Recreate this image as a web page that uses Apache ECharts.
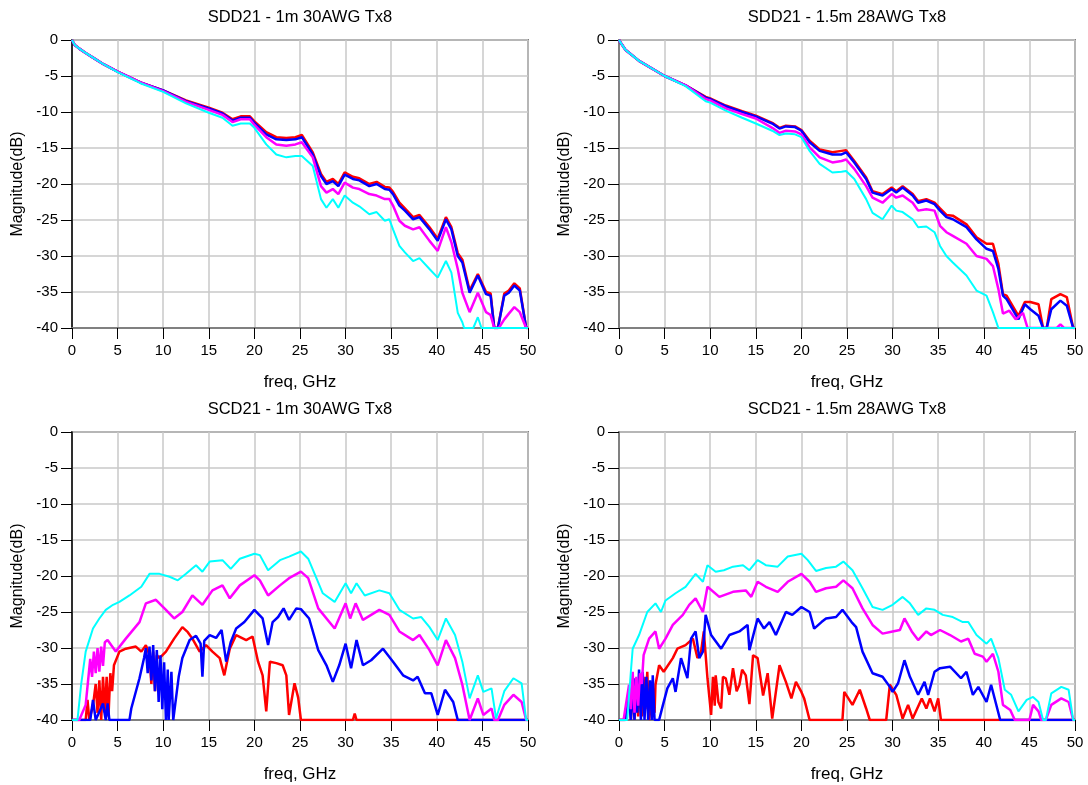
<!DOCTYPE html>
<html>
<head>
<meta charset="utf-8">
<script src="https://cdn.jsdelivr.net/npm/echarts@6/dist/echarts.min.js"></script>
<style>
html,body{margin:0;padding:0;background:#fff;}
#chart{width:1088px;height:785px;}
</style>
</head>
<body>
<div id="chart"></div>
<script>
// ---------- Titles / axis labels ----------
const titles = ['SDD21 - 1m 30AWG Tx8', 'SDD21 - 1.5m 28AWG Tx8', 'SCD21 - 1m 30AWG Tx8', 'SCD21 - 1.5m 28AWG Tx8'];
const xName = 'freq, GHz';
const yName = 'Magnitude(dB)';
const seriesColors = ['#ff0000', '#0000ff', '#ff00ff', '#00ffff'];

// ---------- SDD21 1m 30AWG : [freq GHz, dB] ----------
const sdd1_red = [[0,0],[0.3,-0.7],[0.8,-1.2],[1.5,-1.8],[2.3,-2.45],[3.5,-3.4],[5,-4.4],[7.5,-5.9],[10,-7.0],[12.5,-8.4],[15,-9.4],[16.5,-10.1],[17.6,-11.0],[18.5,-10.6],[19.5,-10.6],[20,-11.3],[21.3,-12.8],[22.4,-13.5],[23.5,-13.6],[24.5,-13.5],[25.2,-13.2],[26.4,-15.6],[27.3,-18.6],[27.9,-19.7],[28.6,-19.3],[29.2,-20.0],[29.9,-18.4],[30.8,-19.0],[31.5,-19.2],[32.6,-20.0],[33.4,-19.7],[34.3,-20.4],[34.8,-20.5],[35.2,-21.1],[35.9,-22.6],[36.5,-23.4],[37.4,-24.6],[38.1,-24.3],[39.2,-26.0],[40.1,-27.6],[41.0,-24.6],[41.6,-26.0],[42.3,-29.6],[42.8,-30.5],[43.6,-34.8],[44.5,-32.5],[45.4,-35.0],[45.9,-35.2],[46.3,-40],[46.7,-40],[47.4,-35.2],[47.9,-34.8],[48.5,-33.8],[49.1,-34.5],[49.8,-40],[50,-40]];
const sdd1_blue = [[0,0],[0.3,-0.7],[0.8,-1.2],[1.5,-1.8],[2.3,-2.45],[3.5,-3.4],[5,-4.4],[7.5,-5.9],[10,-7.0],[12.5,-8.5],[15,-9.5],[16.5,-10.2],[17.6,-11.2],[18.5,-10.8],[19.5,-10.8],[20,-11.5],[21.3,-13.1],[22.4,-13.8],[23.5,-13.9],[24.5,-13.8],[25.2,-13.5],[26.4,-15.9],[27.3,-18.9],[27.9,-20.0],[28.6,-19.6],[29.2,-20.3],[29.9,-18.7],[30.8,-19.3],[31.5,-19.5],[32.6,-20.3],[33.4,-20.0],[34.3,-20.7],[34.8,-20.8],[35.2,-21.4],[35.9,-23.0],[36.5,-23.7],[37.4,-24.9],[38.1,-24.6],[39.2,-26.3],[40.1,-27.9],[41.0,-24.9],[41.6,-26.3],[42.3,-30.0],[42.8,-30.9],[43.6,-35.1],[44.5,-32.7],[45.4,-35.3],[45.9,-35.5],[46.3,-40],[46.7,-40],[47.4,-35.5],[47.9,-35.1],[48.5,-34.1],[49.1,-34.8],[49.8,-40],[50,-40]];
const sdd1_magenta = [[0,0],[0.3,-0.7],[0.8,-1.2],[1.5,-1.8],[2.3,-2.45],[3.5,-3.4],[5,-4.4],[7.5,-5.9],[10,-7.1],[12.5,-8.6],[15,-9.7],[16.5,-10.4],[17.6,-11.4],[18.5,-11.0],[19.5,-11.0],[20,-11.8],[21.3,-13.5],[22.4,-14.5],[23.5,-14.7],[24.5,-14.5],[25.2,-14.2],[26.4,-16.3],[27.3,-20.3],[27.9,-21.2],[28.6,-20.7],[29.2,-21.4],[29.9,-19.8],[30.8,-20.5],[31.5,-20.7],[32.6,-21.4],[33.4,-21.6],[34.3,-22.1],[34.8,-22.1],[35.2,-23.0],[35.9,-25.1],[36.5,-25.8],[37.4,-26.3],[38.1,-26.0],[39.2,-27.9],[40.1,-29.3],[41.0,-26.0],[41.6,-28.1],[42.3,-31.8],[42.8,-35.1],[43.6,-37.8],[44.5,-35.1],[45.4,-37.8],[45.9,-38.2],[46.3,-40],[46.8,-40],[47.4,-38.8],[47.9,-38.0],[48.5,-37.1],[49.1,-37.8],[49.8,-40],[50,-40]];
const sdd1_cyan = [[0,0],[0.3,-0.7],[0.8,-1.2],[1.5,-1.8],[2.3,-2.45],[3.5,-3.4],[5,-4.45],[7.5,-6.0],[10,-7.2],[12.5,-8.8],[15,-10.1],[16.5,-10.8],[17.6,-11.9],[18.5,-11.6],[19.5,-11.6],[20,-12.2],[21.3,-14.5],[22.4,-15.9],[23.5,-16.3],[24.5,-16.1],[25.2,-16.1],[26.4,-17.5],[27.3,-22.1],[27.9,-23.3],[28.6,-22.1],[29.2,-23.3],[29.9,-21.6],[30.8,-22.6],[31.5,-23.1],[32.6,-24.2],[33.4,-23.9],[34.3,-25.1],[34.8,-24.9],[35.2,-26.3],[35.9,-28.6],[36.5,-29.5],[37.4,-30.7],[38.1,-30.3],[39.2,-31.8],[40.1,-33.0],[41.0,-30.7],[41.6,-32.3],[42.3,-37.9],[42.8,-39.2],[43.0,-40],[44.0,-40],[44.5,-38.5],[44.9,-40],[50,-40]];

// ---------- SDD21 1.5m 28AWG ----------
const sdd2_red = [[0,0],[0.3,-0.6],[0.73,-1.4],[2.2,-2.9],[5,-5.0],[7.3,-6.3],[9.5,-7.9],[10,-8.1],[11.7,-9.1],[13.5,-9.9],[15,-10.5],[16.8,-11.5],[17.6,-12.2],[18.3,-11.9],[19.3,-12.0],[20,-12.5],[20.9,-14.0],[22,-15.2],[23.4,-15.6],[24.4,-15.4],[24.9,-15.3],[25.8,-16.8],[27.1,-19.1],[27.8,-21.0],[28.9,-21.4],[29.9,-20.5],[30.4,-21.0],[31.1,-20.3],[32.2,-21.4],[32.8,-22.4],[33.7,-22.1],[34.6,-22.6],[35.2,-23.4],[35.9,-24.3],[36.6,-24.4],[38.1,-25.6],[39.2,-27.4],[40.3,-28.3],[41.0,-28.3],[41.6,-31.1],[42.1,-35.3],[42.5,-35.5],[43.8,-38.3],[44.5,-36.4],[45.1,-36.4],[46.0,-36.7],[46.5,-40],[46.9,-40],[47.4,-36.0],[48.4,-35.3],[49.1,-35.7],[49.8,-40],[50,-40]];
const sdd2_blue = [[0,0],[0.3,-0.6],[0.73,-1.4],[2.2,-2.9],[5,-5.0],[7.3,-6.3],[9.5,-8.0],[10,-8.2],[11.7,-9.2],[13.5,-10.0],[15,-10.6],[16.8,-11.6],[17.6,-12.3],[18.3,-12.0],[19.3,-12.1],[20,-12.6],[20.9,-14.2],[22,-15.4],[23.4,-15.9],[24.4,-15.9],[24.9,-15.6],[25.8,-17.0],[27.1,-19.3],[27.8,-21.2],[28.9,-21.6],[29.9,-20.7],[30.4,-21.2],[31.1,-20.5],[32.2,-21.6],[32.8,-22.6],[33.7,-22.3],[34.6,-22.8],[35.2,-23.7],[35.9,-24.6],[36.6,-24.9],[38.1,-26.0],[39.2,-27.7],[40.3,-29.0],[41.0,-29.3],[41.6,-31.8],[42.1,-35.5],[42.5,-36.0],[43.8,-38.8],[44.5,-36.7],[45.1,-37.4],[46.0,-38.3],[46.5,-40],[46.9,-40],[47.4,-37.4],[48.4,-36.2],[49.1,-36.9],[49.8,-40],[50,-40]];
const sdd2_magenta = [[0,0],[0.3,-0.6],[0.73,-1.4],[2.2,-2.9],[5,-5.0],[7.3,-6.3],[9.5,-8.2],[10,-8.4],[11.7,-9.5],[13.5,-10.3],[15,-10.9],[16.8,-12.2],[17.6,-12.9],[18.3,-12.6],[19.3,-12.7],[20,-13.1],[20.9,-14.9],[22,-16.3],[23.4,-17.0],[24.4,-16.8],[24.9,-16.6],[25.8,-17.9],[27.1,-20.3],[27.8,-21.9],[28.9,-22.6],[29.9,-21.4],[30.4,-21.9],[31.1,-21.6],[32.2,-22.6],[32.8,-23.7],[33.7,-23.5],[34.6,-23.7],[35.2,-25.8],[35.9,-26.7],[36.6,-27.2],[38.1,-28.3],[39.2,-30.0],[40.3,-30.4],[41.0,-31.4],[41.6,-34.6],[42.1,-38.0],[42.8,-37.6],[43.5,-38.8],[44.3,-37.9],[44.8,-40],[48.0,-40],[48.4,-39.5],[48.8,-40],[50,-40]];
const sdd2_cyan = [[0,0],[0.3,-0.6],[0.73,-1.4],[2.2,-2.9],[5,-5.0],[7.3,-6.4],[9.5,-8.5],[10,-8.7],[11.7,-9.8],[13.5,-10.8],[15,-11.6],[16.8,-12.6],[17.6,-13.2],[18.3,-13.0],[19.3,-13.1],[20,-13.5],[20.9,-15.4],[22,-17.2],[23.4,-18.4],[24.4,-18.3],[24.9,-18.2],[25.8,-19.3],[27.1,-22.1],[27.8,-24.0],[28.9,-24.9],[29.9,-23.0],[30.4,-23.7],[31.1,-23.9],[32.2,-24.9],[32.8,-26.0],[33.7,-25.9],[34.6,-26.7],[35.2,-28.6],[35.9,-30.0],[36.6,-30.9],[38.1,-32.7],[39.2,-34.8],[40.3,-35.5],[41.0,-37.8],[41.6,-40],[50,-40]];

// ---------- SCD21 1m 30AWG ----------
const scd1_red = [[0,-40],[1.5,-40],[1.7,-37.2],[1.9,-40],[2.3,-38.0],[2.6,-35.0],[2.8,-39.0],[3.0,-34.5],[3.2,-40],[3.4,-34.0],[3.6,-39.0],[3.8,-34.0],[4.0,-39.5],[4.2,-33.5],[4.4,-36.0],[4.6,-32.4],[5.2,-30.5],[5.9,-30.1],[7.0,-29.8],[7.6,-30.5],[8.1,-29.6],[8.5,-31.0],[8.7,-35.0],[8.9,-30.5],[9.1,-36.0],[9.3,-31.0],[9.6,-31.4],[10.3,-30.5],[11.2,-28.7],[12.1,-27.1],[12.7,-27.8],[13.2,-28.7],[14.0,-30.5],[14.7,-29.6],[15.4,-30.5],[16.2,-31.4],[16.7,-33.8],[17.3,-30.1],[18.0,-28.2],[19.1,-28.9],[19.8,-28.4],[20.4,-31.9],[20.9,-33.8],[21.3,-38.8],[21.7,-31.9],[22.4,-32.1],[23.1,-32.4],[23.5,-33.8],[23.8,-39.3],[24.4,-34.9],[24.8,-36.9],[25.1,-40],[30.8,-40],[31.0,-39.1],[31.2,-40],[50,-40]];
const scd1_blue = [[0,-40],[2.0,-40],[2.3,-37.2],[2.6,-40],[3.4,-37.7],[3.7,-40],[3.9,-37.7],[4.1,-40],[6.3,-40],[6.5,-38.4],[7.4,-34.2],[7.9,-31.4],[8.1,-30.0],[8.3,-33.5],[8.5,-29.8],[8.7,-34.5],[8.9,-29.6],[9.1,-36.0],[9.3,-30.3],[9.5,-37.5],[9.7,-31.0],[9.9,-38.5],[10.1,-32.0],[10.3,-40],[10.5,-33.0],[10.6,-40],[10.9,-33.3],[11.1,-40],[11.3,-40],[11.5,-36.0],[11.7,-34.0],[12.1,-31.4],[12.9,-28.9],[13.6,-28.3],[14.1,-29.4],[14.3,-34.0],[14.5,-29.0],[15.1,-28.2],[15.8,-28.6],[16.4,-27.5],[16.9,-31.9],[17.4,-29.2],[18.0,-27.3],[18.9,-26.4],[20.0,-24.7],[20.9,-25.9],[21.5,-29.6],[22.0,-26.4],[22.6,-25.7],[23.2,-24.5],[23.8,-26.1],[24.6,-24.5],[25.1,-24.6],[26.0,-25.9],[27.0,-30.3],[27.9,-32.4],[28.6,-34.7],[29.3,-32.4],[30.0,-29.4],[30.6,-32.8],[31.2,-28.9],[31.9,-32.4],[32.8,-31.7],[34.1,-30.1],[35.2,-31.9],[36.3,-33.8],[37.4,-34.5],[37.9,-34.0],[38.7,-36.3],[39.4,-36.3],[40.1,-39.3],[40.9,-35.8],[41.8,-37.5],[42.3,-40],[50,-40]];
const scd1_magenta = [[0,-40],[0.8,-40],[1.5,-37.9],[2.0,-31.5],[2.2,-34.0],[2.4,-30.5],[2.6,-33.5],[2.8,-30.0],[3.0,-33.3],[3.2,-29.8],[3.4,-32.5],[3.6,-29.2],[3.9,-28.9],[4.8,-30.5],[5.9,-28.7],[7.4,-26.4],[8.1,-23.8],[9.2,-23.3],[10.3,-24.7],[11.2,-25.9],[12.1,-25.0],[13.2,-22.7],[14.3,-24.0],[15.4,-22.0],[16.5,-21.3],[17.3,-23.1],[18.4,-21.3],[20.0,-19.9],[20.6,-20.6],[21.5,-22.7],[22.8,-21.3],[23.8,-20.3],[25.1,-19.4],[25.9,-20.3],[27.0,-24.5],[28.8,-27.3],[30.0,-23.8],[30.5,-25.9],[31.1,-23.8],[31.9,-26.1],[33.7,-24.7],[34.8,-25.4],[35.9,-27.7],[37.4,-28.9],[38.1,-28.2],[39.2,-30.3],[40.1,-32.4],[41.0,-28.9],[42.0,-31.4],[42.8,-35.1],[43.6,-40],[44.5,-37.0],[45.1,-39.3],[46.0,-38.4],[46.3,-40],[46.7,-40],[47.4,-37.9],[48.4,-36.5],[49.3,-37.5],[49.8,-40],[50,-40]];
const scd1_cyan = [[0,-40],[0.6,-40],[1.0,-35.1],[1.5,-30.5],[2.3,-27.3],[3.0,-25.9],[3.7,-24.7],[4.5,-24.0],[5.2,-23.6],[6.3,-22.7],[7.6,-21.5],[8.5,-19.7],[9.6,-19.7],[10.7,-20.1],[11.6,-20.6],[12.5,-19.7],[13.6,-18.5],[14.3,-19.4],[15.1,-18.0],[16.5,-17.8],[17.4,-19.0],[18.4,-17.6],[20.0,-16.9],[20.6,-17.1],[21.5,-19.2],[22.8,-17.8],[23.8,-17.3],[25.1,-16.6],[25.9,-17.6],[26.8,-20.3],[27.5,-22.4],[28.8,-23.6],[30.0,-21.0],[30.6,-22.4],[31.2,-21.0],[32.1,-22.7],[33.7,-22.0],[34.8,-22.4],[35.9,-24.7],[37.4,-25.9],[38.3,-25.7],[39.2,-27.1],[40.1,-28.9],[41.0,-25.9],[42.0,-28.2],[42.8,-31.9],[43.6,-37.0],[44.5,-33.8],[45.1,-36.1],[46.0,-35.6],[46.5,-39.8],[47.4,-36.0],[48.4,-34.2],[49.3,-34.9],[49.8,-40],[50,-40]];

// ---------- SCD21 1.5m 28AWG ----------
const scd2_red = [[0,-40],[0.7,-40],[1.1,-36.1],[1.3,-40],[1.5,-35.5],[1.7,-40],[1.9,-35.0],[2.1,-39.5],[2.3,-34.5],[2.5,-39.5],[2.7,-34.0],[2.9,-38.5],[3.1,-33.3],[3.3,-40],[3.5,-40],[3.7,-35.5],[3.9,-39],[4.0,-35.1],[4.4,-32.4],[4.9,-33.3],[5.9,-31.4],[6.4,-30.1],[7.3,-29.6],[8.1,-28.7],[8.6,-31.4],[9.0,-30.5],[9.3,-27.7],[9.7,-34.2],[10.1,-39.3],[10.3,-34.0],[10.5,-38.0],[10.6,-33.8],[10.9,-37.5],[11.2,-38.4],[11.4,-34.0],[11.7,-34.2],[12.1,-36.5],[12.5,-32.8],[12.9,-36.0],[13.2,-35.1],[13.5,-33.0],[13.9,-33.8],[14.3,-37.8],[14.7,-31.0],[15.2,-31.4],[15.8,-36.6],[16.3,-33.5],[16.8,-39.8],[17.6,-32.4],[18.3,-34.7],[18.9,-37.0],[19.4,-34.7],[20.0,-36.1],[20.3,-37.0],[20.9,-40],[24.5,-40],[24.7,-36.1],[25.6,-37.9],[26.4,-35.8],[27.1,-38.4],[27.5,-40],[29.3,-40],[29.7,-35.1],[30.4,-36.5],[31.1,-39.8],[31.7,-37.9],[32.2,-39.8],[33.2,-37.0],[33.7,-38.4],[34.1,-37.0],[34.6,-38.8],[35.0,-37.0],[35.3,-40],[50,-40]];
const scd2_blue = [[0,-40],[0.7,-40],[1.1,-36.5],[1.3,-40],[1.5,-35.0],[1.7,-40],[1.8,-34.2],[2.0,-39.0],[2.2,-33.0],[2.4,-40],[2.6,-33.3],[2.8,-40],[3.0,-34.0],[3.2,-40],[3.4,-34.5],[3.6,-40],[3.7,-33.8],[3.9,-40],[4.4,-40],[4.8,-38.0],[5.3,-35.6],[5.9,-34.2],[6.2,-36.1],[6.8,-31.4],[7.5,-34.2],[7.9,-28.7],[8.4,-27.7],[8.8,-31.4],[9.2,-30.5],[9.5,-25.4],[10.1,-28.2],[11.2,-30.1],[12.1,-28.2],[13.2,-27.7],[14.1,-26.8],[14.3,-30.3],[15.2,-25.9],[15.9,-27.3],[16.5,-26.4],[17.2,-28.2],[18.3,-25.0],[19.0,-25.4],[20.0,-24.3],[20.9,-25.0],[21.4,-27.3],[22.2,-26.4],[22.7,-25.9],[23.8,-25.7],[24.5,-24.7],[25.5,-26.4],[26.0,-27.1],[26.7,-30.5],[27.8,-33.5],[28.9,-34.0],[29.7,-35.4],[30.0,-36.1],[30.6,-34.9],[31.3,-31.7],[31.9,-34.0],[32.8,-36.5],[33.5,-34.7],[33.9,-36.5],[34.6,-33.3],[35.2,-32.8],[36.3,-32.6],[37.5,-34.2],[38.1,-33.3],[38.8,-36.5],[39.4,-35.4],[40.3,-37.5],[40.8,-35.1],[41.8,-40],[50,-40]];
const scd2_magenta = [[0,-40],[0.5,-40],[1.1,-35.1],[1.3,-38.5],[1.5,-33.3],[1.7,-39.0],[1.9,-34.0],[2.1,-38.0],[2.3,-33.5],[2.5,-35.0],[2.7,-31.0],[3.3,-28.7],[4.0,-27.7],[4.4,-30.1],[5.1,-28.7],[5.9,-26.8],[7.0,-25.4],[7.7,-24.0],[8.4,-23.1],[9.2,-25.0],[9.7,-21.5],[11.0,-22.9],[12.5,-22.2],[13.9,-22.0],[14.5,-22.9],[15.2,-20.8],[16.1,-21.5],[17.4,-22.2],[18.5,-20.8],[20.0,-19.7],[20.9,-20.8],[21.6,-22.2],[22.7,-21.7],[23.8,-21.5],[24.6,-20.6],[25.6,-21.7],[26.7,-24.5],[27.8,-26.8],[28.9,-28.0],[30.0,-27.7],[30.8,-27.5],[31.3,-25.9],[32.1,-27.7],[32.8,-28.9],[33.7,-27.7],[34.2,-28.2],[35.2,-27.5],[36.3,-28.2],[37.5,-29.1],[38.3,-28.7],[39.0,-30.8],[39.9,-31.2],[40.3,-31.9],[41.0,-30.8],[41.6,-33.3],[42.1,-37.9],[42.9,-38.6],[43.4,-40],[45.0,-40],[45.4,-37.9],[46.0,-38.8],[46.3,-40],[46.8,-40],[47.4,-37.9],[48.5,-37.0],[49.3,-37.5],[49.8,-40],[50,-40]];
const scd2_cyan = [[0,-40],[0.9,-40],[1.3,-33.3],[1.5,-30.1],[2.2,-28.2],[3.1,-25.0],[4.0,-23.8],[4.6,-25.0],[5.1,-23.4],[6.2,-22.4],[7.3,-21.5],[8.4,-19.7],[9.2,-20.8],[9.7,-18.5],[10.6,-19.4],[11.5,-19.2],[12.5,-18.7],[13.6,-18.5],[14.3,-19.2],[15.2,-17.8],[16.1,-18.5],[17.4,-18.7],[18.5,-17.3],[20.0,-16.9],[20.7,-17.8],[21.6,-19.3],[22.7,-18.9],[23.8,-18.7],[24.6,-18.0],[25.6,-19.2],[26.7,-21.7],[27.8,-24.3],[28.9,-24.7],[30.0,-24.0],[31.1,-22.9],[31.9,-23.8],[32.8,-25.4],[33.7,-24.5],[34.6,-24.7],[35.5,-25.4],[36.6,-25.7],[37.7,-26.4],[38.3,-26.4],[39.2,-28.2],[40.3,-29.4],[40.8,-28.7],[41.6,-31.4],[42.3,-35.8],[43.0,-36.5],[43.8,-38.8],[44.7,-37.2],[45.4,-36.8],[46.0,-37.5],[46.5,-40],[46.8,-40],[47.4,-36.3],[48.5,-35.4],[49.3,-35.8],[49.8,-40],[50,-40]];

const panels = [
  [sdd1_red, sdd1_blue, sdd1_magenta, sdd1_cyan],
  [sdd2_red, sdd2_blue, sdd2_magenta, sdd2_cyan],
  [scd1_red, scd1_blue, scd1_magenta, scd1_cyan],
  [scd2_red, scd2_blue, scd2_magenta, scd2_cyan]
];

// ---------- Layout ----------
const FONT = '"Liberation Sans", Arial, sans-serif';
const gridBoxes = [
  {left: 72, top: 40, width: 456, height: 288},
  {left: 619, top: 40, width: 456, height: 288},
  {left: 72, top: 432, width: 456, height: 288},
  {left: 619, top: 432, width: 456, height: 288}
];
const lineWidths = [2.5, 2.5, 2.5, 2];

const option = {
  animation: false,
  backgroundColor: '#ffffff',
  title: gridBoxes.map((g, i) => ({
    text: titles[i],
    left: g.left + g.width / 2,
    top: g.top - 31,
    textAlign: 'center',
    padding: 0,
    textStyle: {fontFamily: FONT, fontSize: 16.5, fontWeight: 'normal', color: '#000'}
  })),
  grid: gridBoxes.map(g => Object.assign({show: true, borderColor: '#808080', borderWidth: 2, backgroundColor: 'transparent'}, g)),
  xAxis: gridBoxes.map((g, i) => ({
    type: 'value', gridIndex: i, min: 0, max: 50, interval: 5,
    name: xName, nameLocation: 'middle', nameGap: 46,
    nameTextStyle: {fontFamily: FONT, fontSize: 17, color: '#000'},
    axisLine: {show: true, onZero: false, lineStyle: {color: '#808080', width: 2}},
    axisTick: {show: true, inside: false, length: 11, lineStyle: {color: '#000', width: 1}},
    axisLabel: {fontFamily: FONT, fontSize: 15, color: '#000', margin: 15},
    splitLine: {show: true, lineStyle: {color: '#c8c8c8', width: 1.5}}
  })),
  yAxis: gridBoxes.map((g, i) => ({
    type: 'value', gridIndex: i, min: -40, max: 0, interval: 5,
    name: yName, nameLocation: 'middle', nameGap: 46, nameRotate: 90,
    nameTextStyle: {fontFamily: FONT, fontSize: 16, color: '#000'},
    axisLine: {show: true, onZero: false, lineStyle: {color: (i % 2 === 0) ? '#000' : '#808080', width: (i % 2 === 0) ? 1.5 : 2}},
    axisTick: {show: true, inside: false, length: 11, lineStyle: {color: '#000', width: 1}},
    axisLabel: {fontFamily: FONT, fontSize: 15, color: '#000', margin: 14},
    splitLine: {show: true, lineStyle: {color: '#c8c8c8', width: 1.5}}
  })),
  series: []
};

panels.forEach((set, pi) => {
  set.forEach((data, si) => {
    option.series.push({
      type: 'line', xAxisIndex: pi, yAxisIndex: pi,
      data: data, showSymbol: false, symbol: 'none', clip: true,
      lineStyle: {color: seriesColors[si], width: lineWidths[si]},
      itemStyle: {color: seriesColors[si]},
      z: 2 + si
    });
  });
});

const chart = echarts.init(document.getElementById('chart'), null, {renderer: 'canvas'});
chart.setOption(option);
</script>
</body>
</html>
